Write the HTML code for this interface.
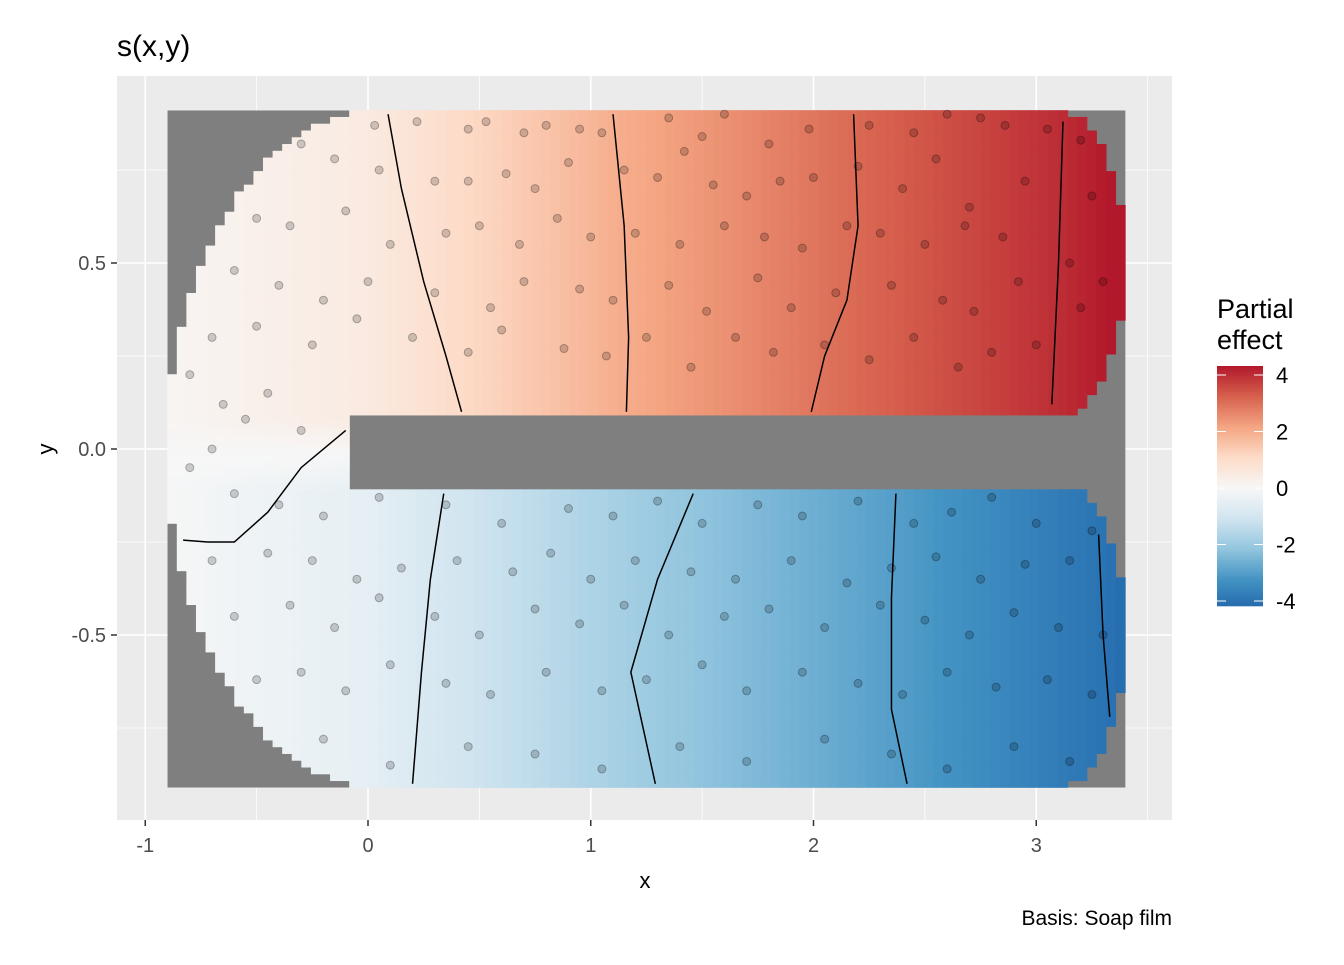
<!DOCTYPE html>
<html><head><meta charset="utf-8">
<style>
body{margin:0;background:#fff;}
svg text{font-family:"Liberation Sans",Arial,sans-serif;}
</style></head>
<body>
<svg id="chart" width="1344" height="960" viewBox="0 0 1344 960" xmlns="http://www.w3.org/2000/svg">
<rect x="0" y="0" width="1344" height="960" fill="#fff"/>
<text x="117" y="56" font-size="30" fill="#000">s(x,y)</text>
<rect x="117" y="76" width="1055" height="744" fill="#ebebeb"/>
<g id="grid"></g>
<g id="cells"></g>
<g id="contours"></g>
<g id="points"></g>
<g id="axes"></g>
<text x="645" y="888" font-size="22" text-anchor="middle">x</text>
<text transform="translate(53,449) rotate(-90)" font-size="22" text-anchor="middle">y</text>
<text x="1172" y="925" font-size="21" text-anchor="end">Basis: Soap film</text>
<g id="legend">
<text x="1217" y="318" font-size="27">Partial</text>
<text x="1217" y="349" font-size="27">effect</text>
</g>
</svg>
<script>
// ---- data ----
const upperX = [-0.9, 0.0, 0.3, 1.15, 2.1, 3.1, 3.4];
const upperV = [0.1, 0.5, 0.9, 2.0, 3.0, 4.0, 4.4];
const lowerX = [-0.9, 0.0, 0.28, 1.3, 2.37, 3.3, 3.4];
const lowerV = [-0.05, -0.5, -0.9, -2.0, -3.0, -4.0, -4.15];
const xTicks = [-1, 0, 1, 2, 3];
const yTicks = [-0.5, 0.0, 0.5];
const yTickLabels = ["-0.5", "0.0", "0.5"];
const legendTicks = [-4, -2, 0, 2, 4];
const contourLines = [
 [[0.09,0.9],[0.15,0.7],[0.25,0.45],[0.35,0.25],[0.42,0.1]],
 [[1.1,0.9],[1.15,0.6],[1.17,0.3],[1.16,0.1]],
 [[2.18,0.9],[2.2,0.6],[2.15,0.4],[2.05,0.25],[1.99,0.1]],
 [[3.12,0.88],[3.1,0.5],[3.07,0.12]],
 [[0.34,-0.12],[0.28,-0.35],[0.24,-0.6],[0.2,-0.9]],
 [[1.46,-0.12],[1.3,-0.35],[1.18,-0.6],[1.29,-0.9]],
 [[2.37,-0.12],[2.35,-0.4],[2.35,-0.7],[2.42,-0.9]],
 [[3.28,-0.23],[3.3,-0.5],[3.33,-0.72]],
 [[-0.1,0.05],[-0.3,-0.05],[-0.45,-0.17],[-0.6,-0.25],[-0.72,-0.25],[-0.83,-0.245]]
];
const ptX = [0.03,0.22,0.45,0.53,0.7,0.8,0.95,1.05,1.35,1.5,1.6,1.8,1.98,2.25,2.45,2.6,2.75,2.86,3.05,3.2,
 -0.3,-0.15,0.05,0.3,0.45,0.62,0.75,0.9,1.15,1.3,1.42,1.55,1.7,1.85,2.0,2.2,2.4,2.55,2.7,2.95,3.25,
 -0.5,-0.35,-0.1,0.1,0.35,0.5,0.68,0.85,1.0,1.2,1.4,1.6,1.78,1.95,2.15,2.3,2.5,2.68,2.85,3.15,3.3,
 -0.6,-0.4,-0.2,0.0,0.3,0.55,0.7,0.95,1.1,1.35,1.52,1.75,1.9,2.1,2.35,2.58,2.72,2.92,3.2,
 -0.7,-0.5,-0.25,-0.05,0.2,0.45,0.6,0.88,1.07,1.25,1.45,1.65,1.82,2.05,2.25,2.45,2.65,2.8,3.0,
 -0.8,-0.65,-0.45,-0.3,-0.55,-0.7,
 -0.8,-0.6,-0.4,-0.2,0.05,0.35,0.6,0.9,1.1,1.3,1.5,1.75,1.95,2.2,2.45,2.62,2.8,3.0,3.25,
 -0.7,-0.45,-0.25,-0.05,0.15,0.4,0.65,0.82,1.0,1.2,1.45,1.65,1.9,2.15,2.35,2.55,2.75,2.95,3.15,
 -0.6,-0.35,-0.15,0.05,0.3,0.5,0.75,0.95,1.15,1.35,1.6,1.8,2.05,2.3,2.5,2.7,2.9,3.1,3.3,
 -0.5,-0.3,-0.1,0.1,0.35,0.55,0.8,1.05,1.25,1.5,1.7,1.95,2.2,2.4,2.6,2.82,3.05,3.25,
 -0.2,0.1,0.45,0.75,1.05,1.4,1.7,2.05,2.35,2.6,2.9,3.15];
const ptY = [0.87,0.88,0.86,0.88,0.85,0.87,0.86,0.85,0.89,0.84,0.9,0.82,0.86,0.87,0.85,0.9,0.89,0.87,0.86,0.83,
 0.82,0.78,0.75,0.72,0.72,0.74,0.7,0.77,0.75,0.73,0.8,0.71,0.68,0.72,0.73,0.76,0.7,0.78,0.65,0.72,0.68,
 0.62,0.6,0.64,0.55,0.58,0.6,0.55,0.62,0.57,0.58,0.55,0.6,0.57,0.54,0.6,0.58,0.55,0.6,0.57,0.5,0.45,
 0.48,0.44,0.4,0.45,0.42,0.38,0.45,0.43,0.4,0.44,0.37,0.46,0.38,0.42,0.44,0.4,0.37,0.45,0.38,
 0.3,0.33,0.28,0.35,0.3,0.26,0.32,0.27,0.25,0.3,0.22,0.3,0.26,0.28,0.24,0.3,0.22,0.26,0.28,
 0.2,0.12,0.15,0.05,0.08,0.0,
 -0.05,-0.12,-0.15,-0.18,-0.13,-0.15,-0.2,-0.16,-0.18,-0.14,-0.2,-0.15,-0.18,-0.14,-0.2,-0.17,-0.13,-0.2,-0.22,
 -0.3,-0.28,-0.3,-0.35,-0.32,-0.3,-0.33,-0.28,-0.35,-0.3,-0.33,-0.35,-0.3,-0.36,-0.32,-0.29,-0.35,-0.31,-0.3,
 -0.45,-0.42,-0.48,-0.4,-0.45,-0.5,-0.43,-0.47,-0.42,-0.5,-0.45,-0.43,-0.48,-0.42,-0.46,-0.5,-0.44,-0.48,-0.5,
 -0.62,-0.6,-0.65,-0.58,-0.63,-0.66,-0.6,-0.65,-0.62,-0.58,-0.65,-0.6,-0.63,-0.66,-0.6,-0.64,-0.62,-0.66,
 -0.78,-0.85,-0.8,-0.82,-0.86,-0.8,-0.84,-0.78,-0.82,-0.86,-0.8,-0.84];

// ---- scales ----
const sx = v => 368 + (v) * 222.75;
const sy = v => 449 - v * 372;
const NS = "http://www.w3.org/2000/svg";
function mk(tag, attrs, parent){const e=document.createElementNS(NS,tag);for(const k in attrs)e.setAttribute(k,attrs[k]);parent.appendChild(e);return e;}
function interp(xs, vs, x){
  if(x<=xs[0])return vs[0];
  for(let i=1;i<xs.length;i++){if(x<=xs[i]){const t=(x-xs[i-1])/(xs[i]-xs[i-1]);return vs[i-1]+t*(vs[i]-vs[i-1]);}}
  return vs[vs.length-1];
}
const pal=["#2166ac","#4393c3","#92c5de","#d1e5f0","#f7f7f7","#fddbc7","#f4a582","#d6604d","#b2182b"];
const L=4.32;
function hex(h){return [parseInt(h.slice(1,3),16),parseInt(h.slice(3,5),16),parseInt(h.slice(5,7),16)];}
function col(v){
  let t=(v+L)/(2*L); t=Math.max(0,Math.min(1,t));
  const p=t*(pal.length-1), i=Math.min(pal.length-2,Math.floor(p)), f=p-i;
  const a=hex(pal[i]), b=hex(pal[i+1]);
  return "rgb("+a.map((c,k)=>Math.round(c+(b[k]-c)*f)).join(",")+")";
}
function inside(x,y){
  if(x<-0.9||x>3.4||y<-0.91||y>0.91)return false;
  if(x<0.05){ if(((x-0.05)/0.95)**2+(y/0.91)**2>1) return false; }
  if(y<0.086&&y>-0.113&&x>-0.085) return false;
  if(x>3.1){
    const cy = y>0 ? 0.5 : -0.5;
    if(((x-3.1)/0.3)**2+((y-cy)/0.41)**2>1) return false;
  }
  return true;
}
function field(x,y){
  const u=interp(upperX,upperV,x), l=interp(lowerX,lowerV,x);
  if(y>=0.086) return u;
  if(y<=-0.113) return l;
  const t=(y+0.113)/0.199; return l+(u-l)*t;
}

// grid
const grid=document.getElementById("grid");
[-0.75,-0.25,0.25,0.75].forEach(v=>mk("line",{x1:117,x2:1172,y1:sy(v),y2:sy(v),stroke:"#fff","stroke-width":0.8},grid));
[-0.5,0.5,1.5,2.5,3.5].forEach(v=>mk("line",{x1:sx(v),x2:sx(v),y1:76,y2:820,stroke:"#fff","stroke-width":0.8},grid));
yTicks.forEach(v=>mk("line",{x1:117,x2:1172,y1:sy(v),y2:sy(v),stroke:"#fff","stroke-width":1.6},grid));
xTicks.forEach(v=>mk("line",{x1:sx(v),x2:sx(v),y1:76,y2:820,stroke:"#fff","stroke-width":1.6},grid));

// cells
const cells=document.getElementById("cells");
const NX=100, NY=100, x0=-0.9, x1=3.4, y0=-0.91, y1=0.91;
const dx=(x1-x0)/NX, dy=(y1-y0)/NY;
mk("rect",{x:sx(x0),y:sy(y1),width:sx(x1)-sx(x0),height:sy(y0)-sy(y1),fill:"#7f7f7f"},cells);
for(let i=0;i<NX;i++){for(let j=0;j<NY;j++){
  const cx=x0+(i+0.5)*dx, cy=y0+(j+0.5)*dy;
  if(!inside(cx,cy))continue;
  const r=mk("rect",{x:sx(x0+i*dx)-0.3,y:sy(y0+(j+1)*dy)-0.3,width:dx*222.75+0.6,height:dy*372+0.6,fill:col(field(cx,cy))},cells);
  
  
}}

// contours
const cg=document.getElementById("contours");
contourLines.forEach(line=>{
  const p=mk("polyline",{points:line.map(q=>sx(q[0])+","+sy(q[1])).join(" "),fill:"none",stroke:"#000","stroke-width":1.5},cg);
  
  
});

// points
const pg=document.getElementById("points");
for(let i=0;i<ptX.length;i++){
  const c=mk("circle",{cx:sx(ptX[i]),cy:sy(ptY[i]),r:4,fill:"rgba(0,0,0,0.18)",stroke:"rgba(0,0,0,0.28)","stroke-width":1},pg);
  
  
}

// axes
const ax=document.getElementById("axes");
xTicks.forEach(v=>{
  mk("line",{x1:sx(v),x2:sx(v),y1:820,y2:826,stroke:"#333","stroke-width":1.5},ax);
  const t=mk("text",{x:sx(v),y:852,"font-size":20,"text-anchor":"middle",fill:"#4d4d4d"},ax);
  t.textContent=String(v);
  
  
});
yTicks.forEach((v,i)=>{
  mk("line",{x1:111,x2:117,y1:sy(v),y2:sy(v),stroke:"#333","stroke-width":1.5},ax);
  const t=mk("text",{x:106,y:sy(v)+7,"font-size":20,"text-anchor":"end",fill:"#4d4d4d"},ax);
  t.textContent=yTickLabels[i];
  
  
});

// legend colorbar
const lg=document.getElementById("legend");
const ly = v => 488 - v * 28.25;
const barTop=366, barBot=605;
for(let y=barTop;y<barBot;y+=2){
  const v=(488-(y+1))/28.25;
  mk("rect",{x:1217,y:y,width:46,height:2.3,fill:col(v)},lg);
}
legendTicks.forEach(v=>{
  mk("line",{x1:1217,x2:1226,y1:ly(v),y2:ly(v),stroke:"#fff","stroke-width":1},lg);
  mk("line",{x1:1254,x2:1263,y1:ly(v),y2:ly(v),stroke:"#fff","stroke-width":1},lg);
  const t=mk("text",{x:1276,y:ly(v)+8,"font-size":22,fill:"#000"},lg);
  t.textContent=String(v);
  
  
});
</script>
</body></html>
